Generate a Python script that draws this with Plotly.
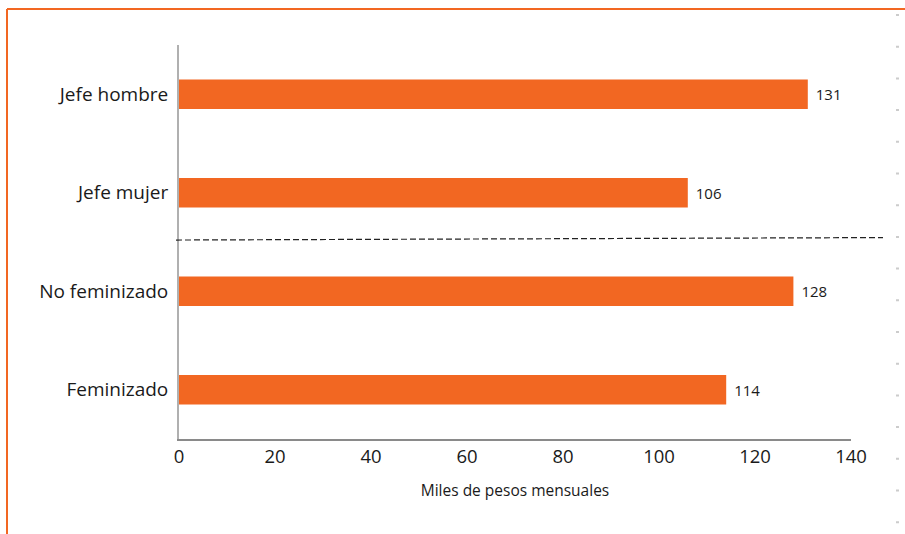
import plotly.graph_objects as go

categories = ["Jefe hombre", "Jefe mujer", "No feminizado", "Feminizado"]
values = [131, 106, 128, 114]
x_ticks = [0, 20, 40, 60, 80, 100, 120, 140]
x_title = "Miles de pesos mensuales"

ORANGE = "#F26722"
FONT = "Open Sans"

L, R, T, B = 179, 54, 45, 95
W, H = 905 - L - R, 534 - T - B
bottom_px = 534 - B

def px_x(p):
    return (p - L) / W

def px_y(p):
    return (bottom_px - p) / H

fig = go.Figure(go.Bar(
    x=values, y=categories, orientation="h",
    marker=dict(color=ORANGE, line=dict(width=0)),
    width=0.30,
    text=["\u2009\u2009" + str(v) for v in values], textposition="outside",
    textfont=dict(family=FONT, size=15, color="#1a1a1a"),
    cliponaxis=False,
))

fig.update_layout(
    width=905, height=534,
    margin=dict(l=L, r=R, t=T, b=B),
    paper_bgcolor="white", plot_bgcolor="white",
    showlegend=False,
    font=dict(family=FONT, color="#1a1a1a"),
    xaxis=dict(
        range=[0, 140], tickvals=x_ticks, ticktext=[str(t) for t in x_ticks],
        showgrid=False, zeroline=False,
        showline=True, linecolor="#8a8a8a", linewidth=1.5,
        ticks="", tickfont=dict(size=18.5, family=FONT),
        title=dict(text=x_title, font=dict(size=15.5, family=FONT), standoff=18),
    ),
    yaxis=dict(
        categoryorder="array", categoryarray=categories,
        autorange="reversed",
        showgrid=False, zeroline=False,
        showline=True, linecolor="#b0b0b0", linewidth=2,
        ticks="", ticksuffix=" ", tickfont=dict(size=19, family=FONT),
    ),
    shapes=[
        # dashed separator between groups
        dict(type="line", xref="paper", yref="y",
             x0=px_x(176), x1=px_x(883), y0=1.48, y1=1.455,
             line=dict(color="#222222", width=1.2, dash="6px,3px")),
        # orange frame: top and left
        dict(type="line", xref="paper", yref="paper",
             x0=px_x(7), x1=px_x(906), y0=px_y(9), y1=px_y(9),
             line=dict(color=ORANGE, width=2)),
        dict(type="line", xref="paper", yref="paper",
             x0=px_x(7), x1=px_x(7), y0=px_y(9), y1=px_y(535),
             line=dict(color=ORANGE, width=2)),
        # dotted gray right edge
        dict(type="line", xref="paper", yref="paper",
             x0=px_x(897.5), x1=px_x(897.5), y0=px_y(14), y1=px_y(535),
             line=dict(color="#cccccc", width=3, dash="2px,29.7px")),
    ],
)

fig.write_html("out.html")
